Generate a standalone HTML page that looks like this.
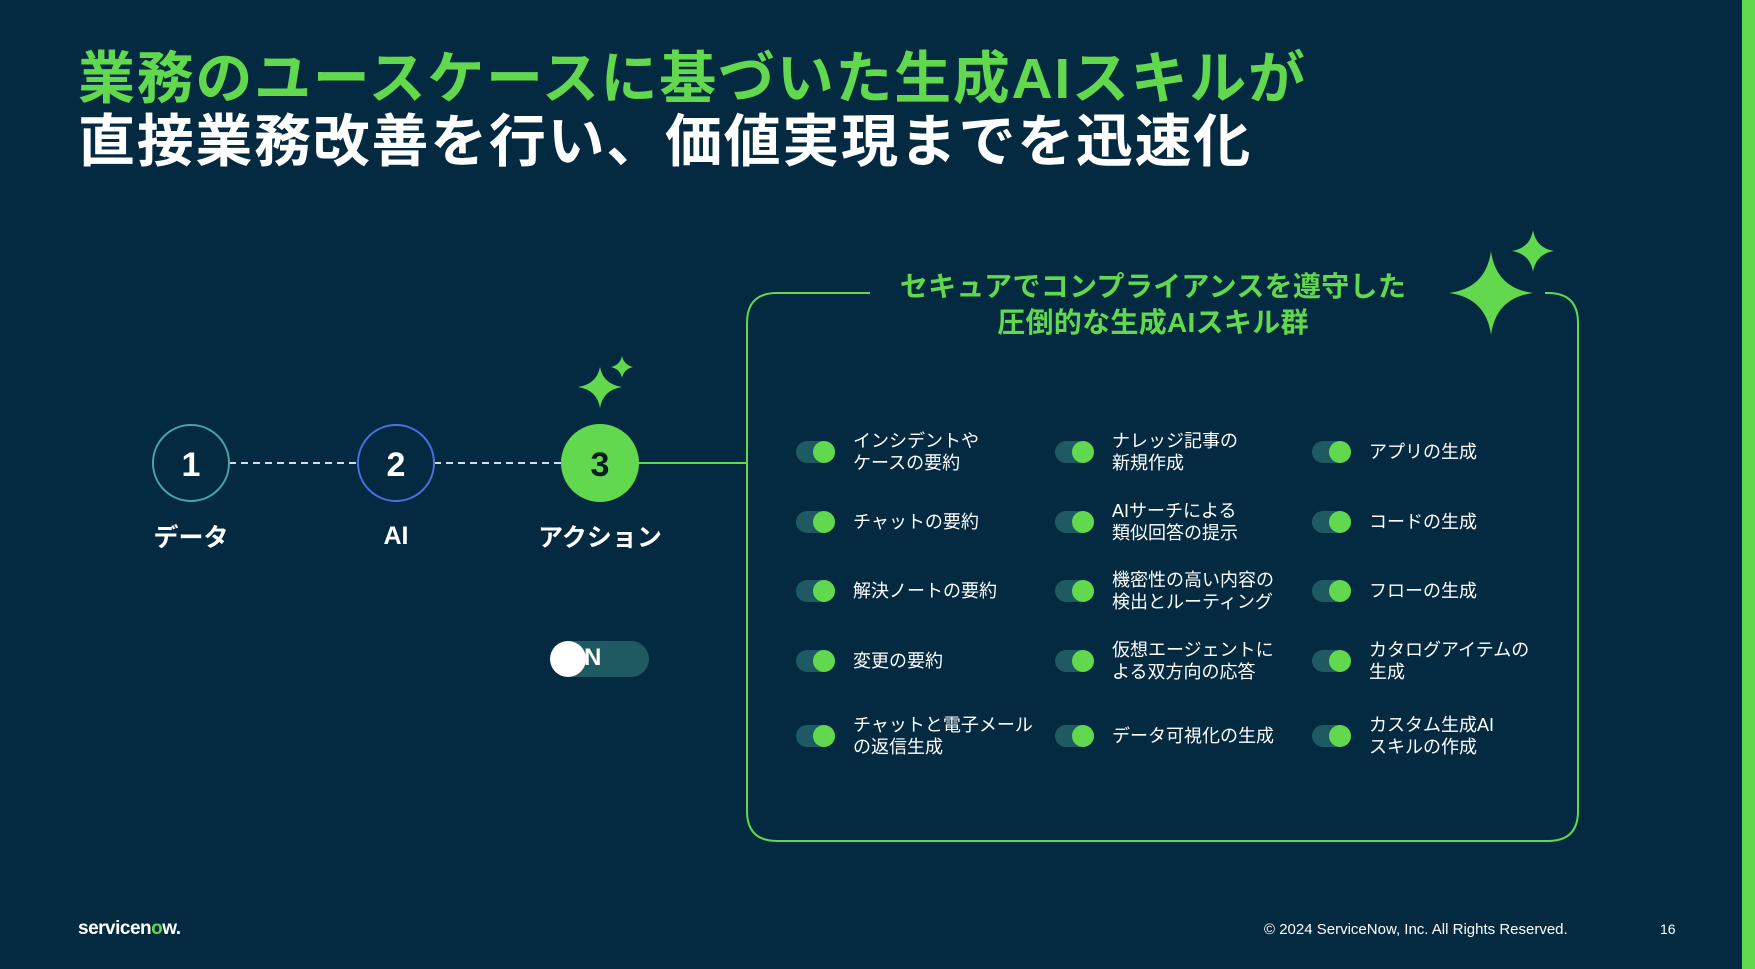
<!DOCTYPE html>
<html><head><meta charset="utf-8"><style>
body{margin:0;width:1755px;height:969px;background:#032a40;position:relative;overflow:hidden;font-family:"Liberation Sans","Noto Sans CJK JP",sans-serif;}
.a{position:absolute;white-space:nowrap;}
.t{font-weight:700;font-size:57px;left:78px;letter-spacing:1.7px;line-height:62px;}
.lbl{color:#fff;font-weight:700;font-size:25px;transform:translateX(-50%);}
.hd{color:#62d84e;font-weight:700;font-size:28px;letter-spacing:0.3px;left:1153px;transform:translateX(-50%);text-align:center;line-height:36px;}
.tg{position:absolute;width:39px;height:22px;border-radius:11px;background:#1f5a62;}
.tg::after{content:"";position:absolute;right:0;top:0;width:22px;height:22px;border-radius:50%;background:#62d84e;}
.it{position:absolute;color:#fff;font-size:18px;line-height:22px;transform:translateY(-50%);}
</style></head><body>
<div class="a t" style="top:48px;color:#62d84e;">業務のユースケースに基づいた生成AIスキルが</div>
<div class="a t" style="top:111px;color:#fff;">直接業務改善を行い、価値実現までを迅速化</div>
<div class="a" style="left:1742px;top:0;width:13px;height:969px;background:#62d84e;"></div>
<svg class="a" style="left:0;top:0" width="1755" height="969">
<line x1="229" y1="463" x2="358" y2="463" stroke="#cfe0ea" stroke-width="2" stroke-dasharray="7,5"/>
<line x1="434" y1="463" x2="562" y2="463" stroke="#cfe0ea" stroke-width="2" stroke-dasharray="7,5"/>
<line x1="638" y1="463" x2="747" y2="463" stroke="#62d84e" stroke-width="2"/>
<circle cx="191" cy="463" r="38" fill="none" stroke="#4ba3a8" stroke-width="2"/>
<circle cx="396" cy="463" r="38" fill="none" stroke="#4a6fe0" stroke-width="2"/>
<circle cx="600" cy="463" r="39" fill="#62d84e"/>
<text x="191" y="476" fill="#fff" font-size="34" font-weight="700" text-anchor="middle" font-family="Liberation Sans">1</text>
<text x="396" y="476" fill="#fff" font-size="34" font-weight="700" text-anchor="middle" font-family="Liberation Sans">2</text>
<text x="600" y="476" fill="#071a24" font-size="34" font-weight="700" text-anchor="middle" font-family="Liberation Sans">3</text>
<path d="M870 293 H777 Q747 293 747 323 V811 Q747 841 777 841 H1548 Q1578 841 1578 811 V323 Q1578 293 1548 293 H1545" fill="none" stroke="#62d84e" stroke-width="2"/>
<g fill="#62d84e">
<path d="M1491 251 Q1496 288 1533 293 Q1496 298 1491 335 Q1486 298 1449 293 Q1486 288 1491 251Z"/>
<path d="M1533 230 Q1536 248 1554 251 Q1536 254 1533 272 Q1530 254 1512 251 Q1530 248 1533 230Z"/>
<path d="M600 367 Q603 384 622 387 Q603 390 600 408 Q597 390 578 387 Q597 384 600 367Z"/>
<path d="M622 356 Q624 365 633 367 Q624 369 622 378 Q620 369 611 367 Q620 365 622 356Z"/>
</g>
</svg>
<div class="a lbl" style="left:191px;top:518px;">データ</div>
<div class="a lbl" style="left:396px;top:522px;">AI</div>
<div class="a lbl" style="left:600px;top:518px;">アクション</div>
<div class="a" style="left:551px;top:641px;width:98px;height:36px;border-radius:18px;background:#1f5a62;"></div>
<div class="a" style="left:550px;top:641px;width:36px;height:36px;border-radius:50%;background:#fff;"></div>
<div class="a" style="left:584px;top:644px;color:#fff;font-weight:700;font-size:24px;">N</div>
<div class="a hd" style="top:269px;">セキュアでコンプライアンスを遵守した<br>圧倒的な生成AIスキル群</div>

<div class="tg" style="left:796px;top:441px"></div><div class="it" style="left:853px;top:452px">インシデントや<br>ケースの要約</div>
<div class="tg" style="left:1055px;top:441px"></div><div class="it" style="left:1112px;top:452px">ナレッジ記事の<br>新規作成</div>
<div class="tg" style="left:1312px;top:441px"></div><div class="it" style="left:1369px;top:452px">アプリの生成</div>

<div class="tg" style="left:796px;top:511px"></div><div class="it" style="left:853px;top:522px">チャットの要約</div>
<div class="tg" style="left:1055px;top:511px"></div><div class="it" style="left:1112px;top:522px">AIサーチによる<br>類似回答の提示</div>
<div class="tg" style="left:1312px;top:511px"></div><div class="it" style="left:1369px;top:522px">コードの生成</div>

<div class="tg" style="left:796px;top:580px"></div><div class="it" style="left:853px;top:591px">解決ノートの要約</div>
<div class="tg" style="left:1055px;top:580px"></div><div class="it" style="left:1112px;top:591px">機密性の高い内容の<br>検出とルーティング</div>
<div class="tg" style="left:1312px;top:580px"></div><div class="it" style="left:1369px;top:591px">フローの生成</div>

<div class="tg" style="left:796px;top:650px"></div><div class="it" style="left:853px;top:661px">変更の要約</div>
<div class="tg" style="left:1055px;top:650px"></div><div class="it" style="left:1112px;top:661px">仮想エージェントに<br>よる双方向の応答</div>
<div class="tg" style="left:1312px;top:650px"></div><div class="it" style="left:1369px;top:661px">カタログアイテムの<br>生成</div>

<div class="tg" style="left:796px;top:725px"></div><div class="it" style="left:853px;top:736px">チャットと電子メール<br>の返信生成</div>
<div class="tg" style="left:1055px;top:725px"></div><div class="it" style="left:1112px;top:736px">データ可視化の生成</div>
<div class="tg" style="left:1312px;top:725px"></div><div class="it" style="left:1369px;top:736px">カスタム生成AI<br>スキルの作成</div>

<div class="a" style="left:78px;top:918px;color:#fff;font-weight:700;font-size:19px;letter-spacing:-0.5px;">servicen<span style="color:#62d84e">o</span>w.</div>
<div class="a" style="left:1264px;top:921px;color:#fff;font-size:15px;">© 2024 ServiceNow, Inc. All Rights Reserved.</div>
<div class="a" style="left:1660px;top:921px;color:#fff;font-size:14px;">16</div>
</body></html>
